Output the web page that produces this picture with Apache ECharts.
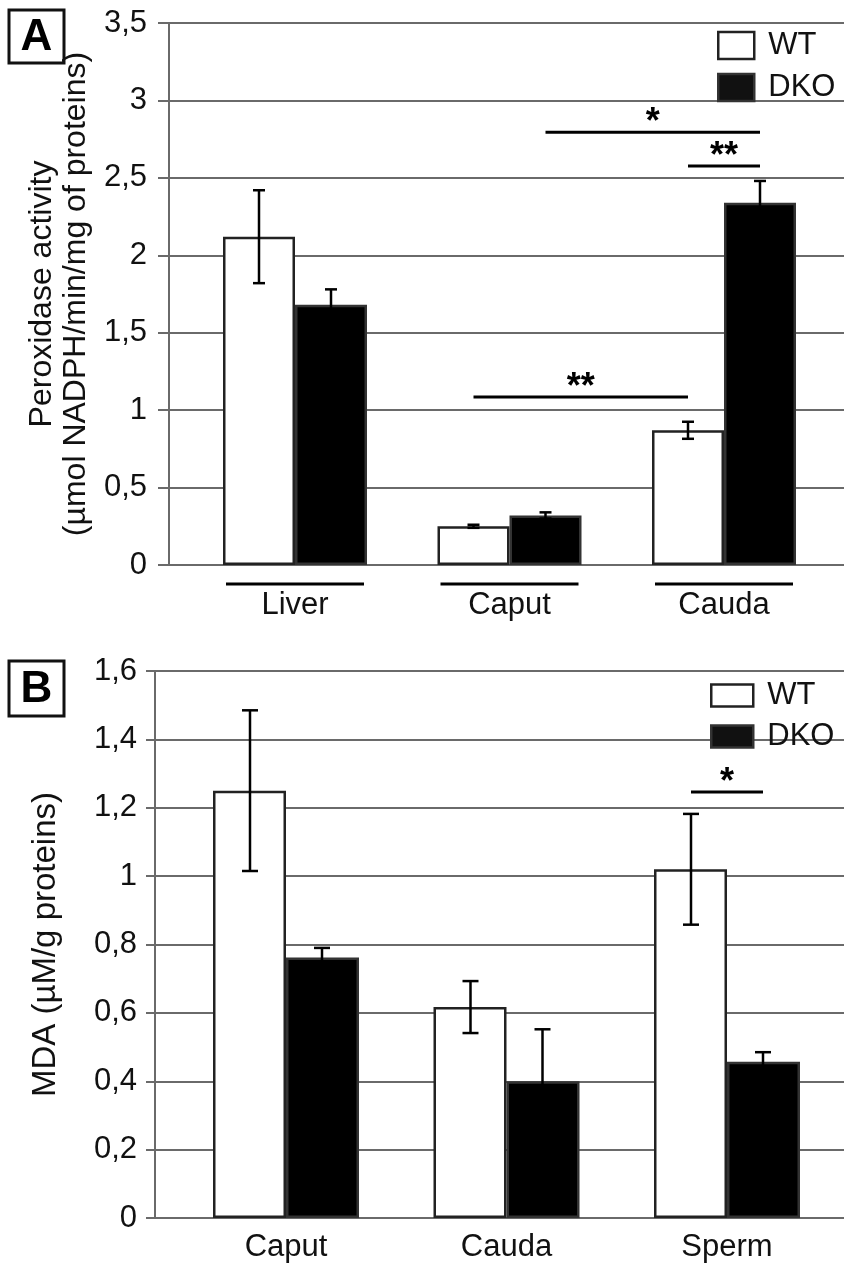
<!DOCTYPE html>
<html>
<head>
<meta charset="utf-8">
<script src="https://cdn.jsdelivr.net/npm/echarts@6/dist/echarts.min.js"></script>
<style>
html,body{margin:0;padding:0;background:#fff;}
#chart{width:844px;height:1267px;}
</style>
</head>
<body>
<div id="chart"></div>
<script>
// ---- Panel A data ----
var catsA = ['Liver', 'Caput', 'Cauda'];
var wtA = [2.12, 0.25, 0.87];
var wtAErr = [0.30, 0.01, 0.055];
var dkoA = [1.68, 0.32, 2.34];
var dkoAErr = [0.10, 0.02, 0.14];
// significance: [startCat, startSide, endCat, endSide, y]
var sigA = [[1, 1, 2, 1, 2.795], [2, -1, 2, 1, 2.576], [1, -1, 2, -1, 1.085]];
var sigALabels = ['*', '**', '**'];
// ---- Panel B data ----
var catsB = ['Caput', 'Cauda', 'Sperm'];
var wtB = [1.25, 0.617, 1.02];
var wtBErr = [0.235, 0.076, 0.162];
var dkoB = [0.762, 0.40, 0.457];
var dkoBErr = [0.028, 0.152, 0.028];
var sigB = [[2, -1, 2, 1, 1.246]];
var sigBLabels = ['*'];
var ticksA = {min: 0, max: 3.5, interval: 0.5};
var ticksB = {min: 0, max: 1.6, interval: 0.2};

var FONT = 'Liberation Sans, Arial, Helvetica, sans-serif';
var GRID = '#6a6a6a';
var HALF = 36;

function fmt(v) { return String(+v.toFixed(2)).replace('.', ','); }

function errData(wt, wtE, dko, dkoE) {
  var d = [];
  for (var i = 0; i < wt.length; i++) {
    d.push([i, wt[i] - wtE[i], wt[i] + wtE[i], -1]);
    d.push([i, dko[i] - dkoE[i], dko[i] + dkoE[i], 1]);
  }
  return d;
}

function errRender(cap) {
  return function (params, api) {
    var side = api.value(3);
    var lo = api.coord([api.value(0), api.value(1)]);
    var hi = api.coord([api.value(0), api.value(2)]);
    var x = lo[0] + side * HALF;
    var st = {stroke: '#000', lineWidth: 2.5};
    return {type: 'group', children: [
      {type: 'line', shape: {x1: x, y1: lo[1], x2: x, y2: hi[1]}, style: st},
      {type: 'line', shape: {x1: x - cap, y1: hi[1], x2: x + cap, y2: hi[1]}, style: st},
      {type: 'line', shape: {x1: x - cap, y1: lo[1], x2: x + cap, y2: lo[1]}, style: st}
    ]};
  };
}

function sigRender(labels) {
  return function (params, api) {
    var a = api.coord([api.value(0), api.value(4)]);
    var b = api.coord([api.value(2), api.value(4)]);
    var x1 = a[0] + api.value(1) * HALF;
    var x2 = b[0] + api.value(3) * HALF;
    return {type: 'group', children: [
      {type: 'line', shape: {x1: x1, y1: a[1], x2: x2, y2: a[1]}, style: {stroke: '#000', lineWidth: 3}},
      {type: 'text', style: {x: (x1 + x2) / 2, y: a[1] - 9, text: labels[params.dataIndex],
        textAlign: 'center', textVerticalAlign: 'middle', font: 'bold 36px ' + FONT, fill: '#000'}}
    ]};
  };
}

function underlineRender(params, api) {
  var p = api.coord([api.value(0), 0]);
  return {type: 'line', shape: {x1: p[0] - 69, y1: p[1] + 19, x2: p[0] + 69, y2: p[1] + 19},
    style: {stroke: '#000', lineWidth: 3}};
}

function yAxisVisible(grid, t, name, nameGap, labelMargin, tickLen, nameSize) {
  return {
    gridIndex: grid, type: 'value', min: t.min, max: t.max, interval: t.interval,
    axisLine: {show: true, lineStyle: {color: GRID, width: 2}},
    axisTick: {show: true, length: tickLen, lineStyle: {color: GRID, width: 2}},
    splitLine: {show: true, lineStyle: {color: GRID, width: 2}},
    axisLabel: {formatter: fmt, fontSize: 31, fontFamily: FONT, color: '#111', margin: labelMargin},
    name: name, nameLocation: 'middle', nameRotate: 90, nameGap: nameGap,
    nameTextStyle: {fontSize: nameSize, fontFamily: FONT, color: '#111', lineHeight: 34}
  };
}
function yAxisHidden(grid, t) {
  return {gridIndex: grid, type: 'value', min: t.min, max: t.max, interval: t.interval, show: false};
}
function xCat(grid, cats, margin) {
  return {gridIndex: grid, type: 'category', data: cats,
    axisLine: {show: false}, axisTick: {show: false}, splitLine: {show: false},
    axisLabel: {fontSize: 31, fontFamily: FONT, color: '#111', margin: margin}};
}

var wtStyle = {color: '#fff', borderColor: '#222', borderWidth: 2.5};
var dkoStyle = {color: '#000', borderColor: '#333', borderWidth: 2.5};

function legend(left, top, w, h, gap) {
  return {
    orient: 'vertical', left: left, top: top, itemWidth: w, itemHeight: h, itemGap: gap,
    padding: 0, icon: 'rect', selectedMode: false,
    textStyle: {fontSize: 31, fontFamily: FONT, color: '#111', lineHeight: h, padding: [0, 0, 0, 9]},
    data: [
      {name: 'WT', itemStyle: {color: '#fff', borderColor: '#222', borderWidth: 2.5}},
      {name: 'DKO', itemStyle: {color: '#111', borderColor: '#333', borderWidth: 2.5}}
    ]
  };
}

var chart = echarts.init(document.getElementById('chart'), null, {renderer: 'canvas'});
chart.setOption({
  backgroundColor: '#fff',
  animation: false,
  textStyle: {fontFamily: FONT},
  grid: [
    {left: 169, right: 0, top: 23, bottom: 702},
    {left: 187.75, width: 643.5, top: 23, bottom: 702},
    {left: 155, right: 0, top: 671, bottom: 49},
    {left: 175.75, width: 661.5, top: 671, bottom: 49}
  ],
  xAxis: [
    {gridIndex: 0, type: 'value', show: false},
    xCat(1, catsA, 25),
    {gridIndex: 2, type: 'value', show: false},
    xCat(3, catsB, 14)
  ],
  yAxis: [
    yAxisVisible(0, ticksA, 'Peroxidase activity\n(µmol NADPH/min/mg of proteins)', 74, 22, 11, 32),
    yAxisHidden(1, ticksA),
    yAxisVisible(2, ticksB, 'MDA (µM/g proteins)', 92, 18, 9, 33),
    yAxisHidden(3, ticksB)
  ],
  legend: [legend(717, 30, 36, 27, 11), legend(710, 680, 42, 22, 10)],
  graphic: [
    {type: 'rect', shape: {x: 9, y: 10, width: 55, height: 53}, style: {fill: '#fff', stroke: '#111', lineWidth: 3}},
    {type: 'text', x: 36.5, y: 38, style: {text: 'A', font: 'bold 44px ' + FONT, fill: '#000', textAlign: 'center', textVerticalAlign: 'middle'}},
    {type: 'rect', shape: {x: 9, y: 661, width: 55, height: 55}, style: {fill: '#fff', stroke: '#111', lineWidth: 3}},
    {type: 'text', x: 36.5, y: 690, style: {text: 'B', font: 'bold 44px ' + FONT, fill: '#000', textAlign: 'center', textVerticalAlign: 'middle'}}
  ],
  series: [
    {name: 'WT', type: 'bar', xAxisIndex: 1, yAxisIndex: 1, data: wtA, barWidth: 72, barGap: '0%', itemStyle: wtStyle},
    {name: 'DKO', type: 'bar', xAxisIndex: 1, yAxisIndex: 1, data: dkoA, barWidth: 72, barGap: '0%', itemStyle: dkoStyle},
    {type: 'custom', xAxisIndex: 1, yAxisIndex: 1, z: 5, clip: false, data: errData(wtA, wtAErr, dkoA, dkoAErr),
      encode: {x: 0, y: [1, 2]}, renderItem: errRender(6)},
    {type: 'custom', xAxisIndex: 1, yAxisIndex: 1, z: 5, clip: false, data: catsA.map(function (c, i) { return [i, 0]; }),
      encode: {x: 0, y: 1}, renderItem: underlineRender},
    {type: 'custom', xAxisIndex: 1, yAxisIndex: 1, z: 5, clip: false, data: sigA,
      encode: {x: [0, 2], y: 4}, renderItem: sigRender(sigALabels)},
    {name: 'WT', type: 'bar', xAxisIndex: 3, yAxisIndex: 3, data: wtB, barWidth: 73, barGap: '0%', itemStyle: wtStyle},
    {name: 'DKO', type: 'bar', xAxisIndex: 3, yAxisIndex: 3, data: dkoB, barWidth: 73, barGap: '0%', itemStyle: dkoStyle},
    {type: 'custom', xAxisIndex: 3, yAxisIndex: 3, z: 5, clip: false, data: errData(wtB, wtBErr, dkoB, dkoBErr),
      encode: {x: 0, y: [1, 2]}, renderItem: errRender(8)},
    {type: 'custom', xAxisIndex: 3, yAxisIndex: 3, z: 5, clip: false, data: sigB,
      encode: {x: [0, 2], y: 4}, renderItem: sigRender(sigBLabels)}
  ]
});
</script>
</body>
</html>
